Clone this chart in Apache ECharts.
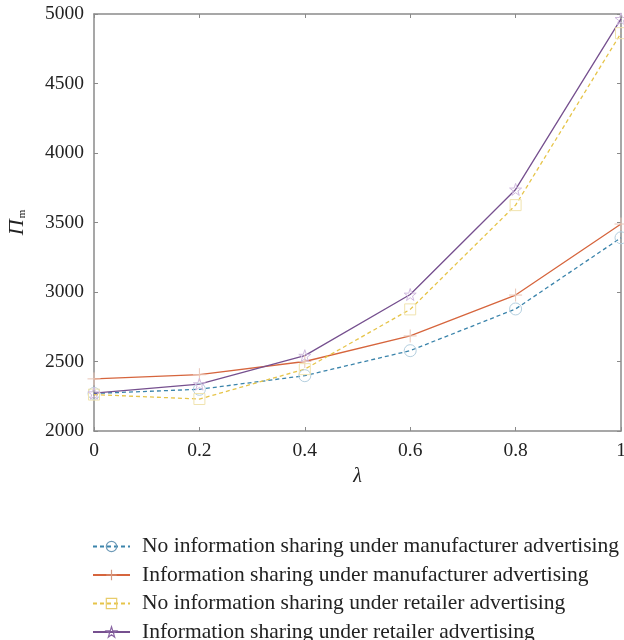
<!DOCTYPE html>
<html>
<head>
<meta charset="utf-8">
<script src="https://cdn.jsdelivr.net/npm/echarts@6/dist/echarts.min.js"></script>
<style>
  html, body { margin: 0; padding: 0; background: #ffffff; }
  #chart { width: 624px; height: 640px; }
</style>
</head>
<body>
<div id="chart"></div>
<script>
// λ values along the horizontal axis
const lambdaValues = [0, 0.2, 0.4, 0.6, 0.8, 1];

// Manufacturer profit Π_m for each scenario
const noShareManufacturer = [2270, 2300, 2398, 2578, 2878, 3390];
const shareManufacturer   = [2375, 2405, 2500, 2684, 2978, 3489];
const noShareRetailer     = [2262, 2230, 2445, 2875, 3625, 4862];
const shareRetailer       = [2272, 2337, 2542, 2982, 3738, 4965];

const seriesNames = [
  'No information sharing under manufacturer advertising',
  'Information sharing under manufacturer advertising',
  'No information sharing under retailer advertising',
  'Information sharing under retailer advertising'
];

const xTicks = [0, 0.2, 0.4, 0.6, 0.8, 1];
const yTicks = [2000, 2500, 3000, 3500, 4000, 4500, 5000];

const SERIF = '"Liberation Serif", "DejaVu Serif", serif';
const AXIS_GREY = '#8a8a8a';
const CLEAR = 'rgba(255,255,255,0)';

const plusPath = 'path://M5,0L5,10M0,5L10,5';
const starPath = 'path://M50,0L61.8,35.1L98.1,35.1L68.7,56.7L79.4,90.5L50,69.6L20.6,90.5L31.3,56.7L1.9,35.1L38.2,35.1Z';

function pairs(values) {
  return lambdaValues.map((x, i) => [x, values[i]]);
}

function makeSeries(name, values, lineColor, markColor, dashed, symbol, size) {
  return {
    name: name,
    type: 'line',
    data: pairs(values),
    symbol: symbol,
    symbolSize: size,
    showAllSymbol: true,
    lineStyle: { color: lineColor, width: 1.3, type: dashed ? [4, 3] : 'solid' },
    itemStyle: { color: CLEAR, borderColor: markColor, borderWidth: 1 },
    emphasis: { disabled: true },
    animation: false,
    z: 3
  };
}

function legendEntry(name, markColor) {
  return { name: name, itemStyle: { color: CLEAR, borderColor: markColor, borderWidth: 1.2 } };
}

const chart = echarts.init(document.getElementById('chart'), null, { renderer: 'canvas' });

const baseX = {
  type: 'value', min: 0, max: 1, interval: 0.2,
  axisLine: { show: true, onZero: false, lineStyle: { color: AXIS_GREY, width: 1.5 } },
  axisTick: { show: true, inside: true, length: 4, lineStyle: { color: AXIS_GREY, width: 1 } },
  splitLine: { show: false }
};
const baseY = {
  type: 'value', min: 2000, max: 5000, interval: 500,
  axisLine: { show: true, onZero: false, lineStyle: { color: AXIS_GREY, width: 1.5 } },
  axisTick: { show: true, inside: true, length: 4, lineStyle: { color: AXIS_GREY, width: 1 } },
  splitLine: { show: false }
};

chart.setOption({
  backgroundColor: '#ffffff',
  animation: false,
  grid: { left: 94, right: 3, top: 14, bottom: 209, containLabel: false, outerBoundsMode: 'none' },
  xAxis: [
    Object.assign({}, baseX, {
      position: 'bottom',
      name: 'λ',
      nameLocation: 'middle',
      nameGap: 36,
      nameTextStyle: { fontFamily: SERIF, fontStyle: 'italic', fontSize: 20, color: '#222' },
      axisLabel: {
        fontFamily: SERIF, fontSize: 19.5, color: '#222', margin: 10,
        formatter: v => (xTicks.some(t => Math.abs(t - v) < 1e-9) ? String(+v.toFixed(1)) : '')
      }
    }),
    Object.assign({}, baseX, { position: 'top', axisLabel: { show: false } })
  ],
  yAxis: [
    Object.assign({}, baseY, {
      position: 'left',
      name: '{p|Π}{s|m}',
      nameLocation: 'middle',
      nameRotate: 90,
      nameGap: 66,
      nameTextStyle: {
        rich: {
          p: { fontFamily: SERIF, fontStyle: 'italic', fontSize: 22, color: '#222', verticalAlign: 'top', lineHeight: 22 },
          s: { fontFamily: SERIF, fontSize: 11, color: '#222', verticalAlign: 'bottom', lineHeight: 22, padding: [12, 0, 0, 1] }
        }
      },
      axisLabel: {
        fontFamily: SERIF, fontSize: 19.5, color: '#222', margin: 10,
        formatter: v => (yTicks.indexOf(v) >= 0 ? String(v) : '')
      }
    }),
    Object.assign({}, baseY, { position: 'right', axisLabel: { show: false } })
  ],
  legend: {
    orient: 'vertical',
    left: 92,
    top: 535.5,
    height: 200,
    itemWidth: 37,
    itemHeight: 13,
    itemGap: 6.5,
    padding: 0,
    selectedMode: false,
    itemStyle: { color: CLEAR, borderWidth: 1.2 },
    textStyle: { fontFamily: SERIF, fontSize: 21.5, color: '#222', padding: [0, 0, 0, 7] },
    data: [
      legendEntry(seriesNames[0], '#6f9bb8'),
      legendEntry(seriesNames[1], '#d49a82'),
      legendEntry(seriesNames[2], '#e8cc6a'),
      legendEntry(seriesNames[3], '#8a66a3')
    ]
  },
  series: [
    makeSeries(seriesNames[0], noShareManufacturer, '#3b84ab', '#b4cfdf', true, 'circle', 12),
    makeSeries(seriesNames[1], shareManufacturer, '#d6653d', '#e9c6b7', false, plusPath, 13),
    makeSeries(seriesNames[2], noShareRetailer, '#e6c449', '#f0e3ae', true, 'rect', 11),
    makeSeries(seriesNames[3], shareRetailer, '#76508f', '#d0bade', false, starPath, 12)
  ]
});
</script>
</body>
</html>
